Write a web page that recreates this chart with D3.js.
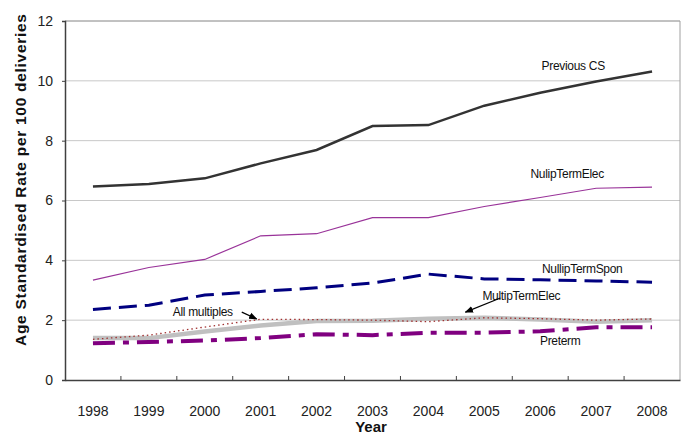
<!DOCTYPE html>
<html><head><meta charset="utf-8">
<script src="https://cdn.jsdelivr.net/npm/d3@7"></script>
<style>body{margin:0;background:#fff}svg{display:block;font-family:"Liberation Sans",Arial,sans-serif}</style>
</head><body><svg id="c" width="685" height="445"></svg>
<script>
const years = ["1998","1999","2000","2001","2002","2003","2004","2005","2006","2007","2008"];
const yTicks = [0,2,4,6,8,10,12];
const previousCS     = [6.47,6.55,6.74,7.24,7.69,8.49,8.52,9.17,9.60,9.98,10.31];
const nulipTermElec  = [3.34,3.76,4.03,4.82,4.89,5.43,5.43,5.80,6.10,6.41,6.45];
const nullipTermSpon = [2.36,2.50,2.84,2.96,3.08,3.24,3.54,3.38,3.35,3.31,3.27];
const multipTermElec = [1.40,1.40,1.62,1.82,1.97,1.98,2.05,2.08,2.02,1.95,2.00];
const allMultiples   = [1.36,1.50,1.77,2.03,2.02,2.00,1.95,2.08,2.05,2.00,2.04];
const preterm        = [1.23,1.27,1.32,1.40,1.53,1.50,1.58,1.58,1.63,1.76,1.76];

const svg = d3.select("#c");
const L=65,R=680,T=21,B=380;
const x = d3.scaleBand().domain(years).range([L,R]);
const y = d3.scaleLinear().domain([0,12]).range([B,T]);
const cx = d => x(d)+x.bandwidth()/2;

// gridlines
svg.append("g").selectAll("line").data(yTicks.filter(v=>v>0)).join("line")
  .attr("x1",L).attr("x2",R).attr("y1",d=>y(d)).attr("y2",d=>y(d))
  .attr("stroke","#c8c8c8").attr("stroke-width",1);
// frame top/right
svg.append("path").attr("d",`M${L},${T}H${R}V${B}`).attr("fill","none").attr("stroke","#a0a0a0").attr("stroke-width",1);

// y axis
const ya = svg.append("g").attr("transform",`translate(${L},0)`)
  .call(d3.axisLeft(y).tickValues(yTicks).tickSize(3).tickPadding(9));
ya.select(".domain").attr("stroke","#404040").attr("stroke-width",1.5);
ya.selectAll(".tick line").attr("stroke","#404040");
ya.selectAll("text").attr("font-size",14).attr("fill","#222").attr("font-family","Liberation Sans, Arial, sans-serif");

// x axis
const xa = svg.append("g").attr("transform",`translate(0,${B})`)
  .call(d3.axisBottom(x).tickSize(0).tickPadding(26));
xa.select(".domain").attr("stroke","#404040").attr("stroke-width",1.5);
xa.selectAll("text").attr("font-size",14).attr("fill","#222").attr("font-family","Liberation Sans, Arial, sans-serif");
// category separator ticks (inside)
svg.append("g").selectAll("line").data(years.slice(1)).join("line")
  .attr("x1",d=>x(d)).attr("x2",d=>x(d)).attr("y1",B).attr("y2",B-4)
  .attr("stroke","#404040").attr("stroke-width",1);

const line = d3.line().x((d,i)=>cx(years[i])).y(d=>y(d));
const series = [
  {v:multipTermElec, c:"#c0c0c0", w:4.5, dash:null},
  {v:allMultiples, c:"#a03030", w:1.3, dash:"1.5,3"},
  {v:preterm, c:"#800080", w:4, dash:"22,8,6,8"},
  {v:nullipTermSpon, c:"#000080", w:3, dash:"18,8"},
  {v:nulipTermElec, c:"#993399", w:1.2, dash:null},
  {v:previousCS, c:"#333333", w:2.5, dash:null}
];
svg.append("g").selectAll("path").data(series).join("path")
  .attr("d",d=>line(d.v)).attr("fill","none")
  .attr("stroke",d=>d.c).attr("stroke-width",d=>d.w)
  .attr("stroke-dasharray",d=>d.dash);

// labels
const lab = [
  {t:"Previous CS", x:cx("2006")+33, y:10.5},
  {t:"NulipTermElec", x:cx("2006")+27, y:6.89},
  {t:"NullipTermSpon", x:cx("2006")+42, y:3.71},
  {t:"MultipTermElec", x:cx("2005")+37, y:2.81},
  {t:"Preterm", x:cx("2006")+20, y:1.30},
  {t:"All multiples", x:cx("2000")-2, y:2.27}
];
svg.append("g").selectAll("text").data(lab).join("text")
  .attr("x",d=>d.x).attr("y",d=>y(d.y)).attr("text-anchor","middle").attr("dy","0.35em")
  .attr("font-size",12).attr("letter-spacing",-0.3).attr("fill","#111").text(d=>d.t);

// arrows
const defs = svg.append("defs");
defs.append("marker").attr("id","ah").attr("viewBox","0 0 10 10").attr("refX",9).attr("refY",5)
  .attr("markerWidth",7).attr("markerHeight",7).attr("orient","auto")
  .append("path").attr("d","M0,1L10,5L0,9z").attr("fill","#000");
const arrows = [
  {x1:cx("2000")+37, y1:2.27, x2:cx("2001")-4, y2:2.04},
  {x1:cx("2004")+72, y1:2.74, x2:cx("2004")+37, y2:2.27}
];
svg.append("g").selectAll("line").data(arrows).join("line")
  .attr("x1",d=>d.x1).attr("y1",d=>y(d.y1)).attr("x2",d=>d.x2).attr("y2",d=>y(d.y2))
  .attr("stroke","#000").attr("stroke-width",1.2).attr("marker-end","url(#ah)");

// axis titles
svg.append("text").attr("x",371).attr("y",432).attr("text-anchor","middle")
  .attr("font-size",15).attr("font-weight","bold").attr("fill","#111").text("Year");
svg.append("text").attr("transform",`translate(21,180) rotate(-90)`).attr("text-anchor","middle")
  .attr("dy","0.35em").attr("font-size",15.5).attr("font-weight","bold").attr("fill","#111")
  .attr("textLength",332).attr("lengthAdjust","spacing")
  .text("Age Standardised Rate per 100 deliveries");
</script></body></html>
